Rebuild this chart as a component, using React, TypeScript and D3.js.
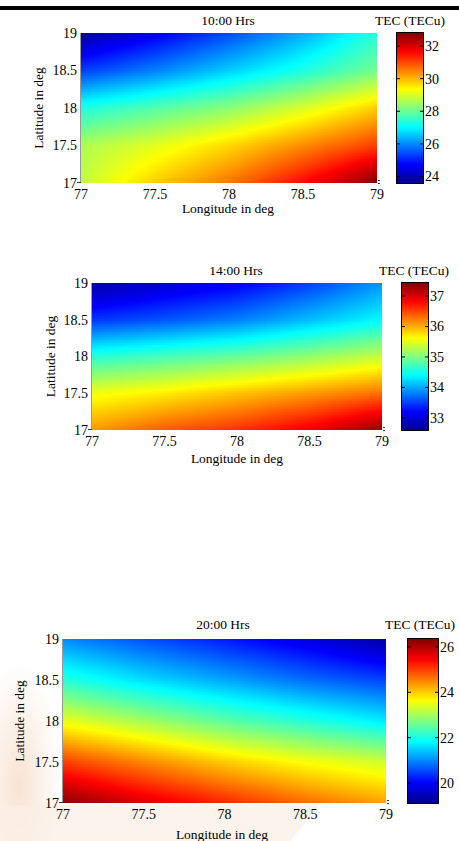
import React from 'react';
import * as d3 from 'd3';

// grid nodes (deg) and TEC values, rows from lat 19 down to 17
const LON_GRID = [77, 77.5, 78, 78.5, 79];
const LAT_GRID = [19, 18.5, 18, 17.5, 17];
const LON_TICKS = [77, 77.5, 78, 78.5, 79];
const LAT_TICKS = [17, 17.5, 18, 18.5, 19];

const TEC_1000 = [
  [23.8, 24.6, 25.4, 26.3, 27.4],
  [25.3, 25.9, 26.6, 27.3, 28.1],
  [27.3, 27.8, 28.3, 29.0, 29.8],
  [28.6, 29.1, 29.7, 30.4, 31.1],
  [28.8, 29.8, 30.6, 31.6, 32.8],
];
const TEC_1400 = [
  [32.7, 32.95, 33.15, 33.5, 33.9],
  [33.45, 33.6, 33.8, 34.1, 34.4],
  [34.6, 34.75, 34.9, 35.1, 35.35],
  [35.55, 35.7, 35.9, 36.1, 36.3],
  [36.1, 36.4, 36.6, 36.9, 37.35],
];
const TEC_2000 = [
  [21.0, 20.6, 20.2, 19.8, 19.3],
  [22.1, 21.6, 21.2, 20.8, 20.5],
  [23.5, 23.0, 22.5, 22.1, 21.7],
  [25.0, 24.5, 24.0, 23.6, 23.3],
  [26.3, 25.7, 25.2, 24.7, 24.3],
];

const TITLES = ['10:00 Hrs', '14:00 Hrs', '20:00 Hrs'];
const CLIMS = [[23.6, 32.8], [32.6, 37.43], [19.12, 26.35]];
const CB_TICKS = [[24, 26, 28, 30, 32], [33, 34, 35, 36, 37], [20, 22, 24, 26]];

// MATLAB jet
const jet = d3.scaleLinear<string>()
  .domain([0, 0.125, 0.375, 0.625, 0.875, 1])
  .range(['#00008f', '#0000ff', '#00ffff', '#ffff00', '#ff0000', '#800000'])
  .clamp(true);

const FONT = 'Liberation Serif, Times New Roman, Times, serif';

const panels = [
  { grid: TEC_1000, x0: 81, x1: 377, y0: 33, y1: 183, cb0: 397, cb1: 423, titleX: 228, titleY: 25, tecX: 410, ylabX: 43, xlabX: 228, xlabY: 213 },
  { grid: TEC_1400, x0: 92, x1: 382, y0: 283, y1: 430, cb0: 402, cb1: 428, titleX: 236, titleY: 275, tecX: 414, ylabX: 55, xlabX: 237, xlabY: 463 },
  { grid: TEC_2000, x0: 63, x1: 386, y0: 639, y1: 803, cb0: 408, cb1: 438, titleX: 223, titleY: 629, tecX: 420, ylabX: 24, xlabX: 222, xlabY: 839 },
];

function sample(grid: number[][], lon: number, lat: number) {
  const fi = d3.scaleLinear().domain([LON_GRID[0], LON_GRID[LON_GRID.length - 1]]).range([0, LON_GRID.length - 1]).clamp(true)(lon);
  const fj = d3.scaleLinear().domain([LAT_GRID[0], LAT_GRID[LAT_GRID.length - 1]]).range([0, LAT_GRID.length - 1]).clamp(true)(lat);
  const i = Math.min(Math.floor(fi), LON_GRID.length - 2);
  const j = Math.min(Math.floor(fj), LAT_GRID.length - 2);
  const u = fi - i, v = fj - j;
  const a = grid[j][i], b = grid[j][i + 1], c = grid[j + 1][i], d = grid[j + 1][i + 1];
  return a * (1 - u) * (1 - v) + b * u * (1 - v) + c * (1 - u) * v + d * u * v;
}

function Panel({ p, k }: { p: any; k: number }) {
  const clim = CLIMS[k];
  const x = d3.scaleLinear().domain([77, 79]).range([p.x0, p.x1]);
  const y = d3.scaleLinear().domain([17, 19]).range([p.y1, p.y0]);
  const cb = d3.scaleLinear().domain(clim).range([p.y1, p.y0]);
  const color = (val: number) => jet((val - clim[0]) / (clim[1] - clim[0]));

  const step = 2;
  const cells: JSX.Element[] = [];
  for (let px = p.x0; px < p.x1; px += step) {
    for (let py = p.y0; py < p.y1; py += step) {
      const w = Math.min(step, p.x1 - px), h = Math.min(step, p.y1 - py);
      const val = sample(p.grid, x.invert(px + w / 2), y.invert(py + h / 2));
      cells.push(<rect key={px + '_' + py} x={px} y={py} width={w} height={h} fill={color(val)} />);
    }
  }

  const bar: JSX.Element[] = [];
  for (let py = p.y0; py < p.y1; py++) {
    bar.push(<rect key={py} x={p.cb0} y={py} width={p.cb1 - p.cb0} height={1} fill={color(cb.invert(py + 0.5))} />);
  }

  const midY = (p.y0 + p.y1) / 2;
  return (
    <g style={{ fontFamily: FONT }} fill="#000">
      <g shapeRendering="crispEdges">{cells}</g>
      <line x1={p.x0 - 0.5} x2={p.x0 - 0.5} y1={p.y0} y2={p.y1} stroke="#999" />
      <line x1={p.x0 - 4} x2={p.x0} y1={p.y1 - 0.5} y2={p.y1 - 0.5} stroke="#333" />
      <line x1={p.x1 + 1} x2={p.x1 + 3} y1={p.y1 - 2.5} y2={p.y1 - 2.5} stroke="#333" />
      <line x1={p.x1 + 1} x2={p.x1 + 3} y1={p.y1 + 0.5} y2={p.y1 + 0.5} stroke="#333" />

      {LAT_TICKS.map(t => (
        <text key={'la' + t} x={p.x0 - 4} y={y(t)} dy="0.35em" textAnchor="end" fontSize={14}>{t}</text>
      ))}
      {LON_TICKS.map(t => (
        <text key={'lo' + t} x={x(t)} y={p.y1 + 16} textAnchor="middle" fontSize={14}>{t}</text>
      ))}

      <text x={p.titleX} y={p.titleY} textAnchor="middle" fontSize={13.5}>{TITLES[k]}</text>
      <text x={p.xlabX} y={p.xlabY} textAnchor="middle" fontSize={13.5}>Longitude in deg</text>
      <text transform={`translate(${p.ylabX},${midY}) rotate(-90)`} textAnchor="middle" fontSize={13.5}>Latitude in deg</text>

      <g shapeRendering="crispEdges">{bar}</g>
      <rect x={p.cb0 - 0.5} y={p.y0 - 0.5} width={p.cb1 - p.cb0 + 1} height={p.y1 - p.y0 + 1} fill="none" stroke="#000" />
      {CB_TICKS[k].map(t => (
        <g key={'cb' + t}>
          <line x1={p.cb0} x2={p.cb0 + 3} y1={cb(t)} y2={cb(t)} stroke="#000" />
          <line x1={p.cb1 - 3} x2={p.cb1} y1={cb(t)} y2={cb(t)} stroke="#000" />
          <text x={p.cb1 + 2} y={cb(t)} dy="0.35em" fontSize={14}>{t}</text>
        </g>
      ))}
      <text x={p.tecX} y={p.titleY} textAnchor="middle" fontSize={13.5}>TEC (TECu)</text>
    </g>
  );
}

export default function App() {
  return (
    <svg width={459} height={841} style={{ position: 'absolute', left: 0, top: 0, background: '#fff' }}>
      <defs>
        <radialGradient id="wm" cx="0.3" cy="0.7" r="0.7">
          <stop offset="0" stopColor="#f6dcc6" stopOpacity={0.8} />
          <stop offset="1" stopColor="#f6dcc6" stopOpacity={0} />
        </radialGradient>
      </defs>
      {/* faint watermark at the bottom of the page */}
      <path d="M0,660 L35,670 L62,705 L62,841 L0,841 Z" fill="url(#wm)" />
      <path d="M0,805 L320,805 L290,841 L0,841 Z" fill="#fbeee4" opacity={0.7} />
      <rect x={0} y={6} width={459} height={4} fill="#000" />
      {panels.map((p, k) => <Panel key={k} p={p} k={k} />)}
    </svg>
  );
}
